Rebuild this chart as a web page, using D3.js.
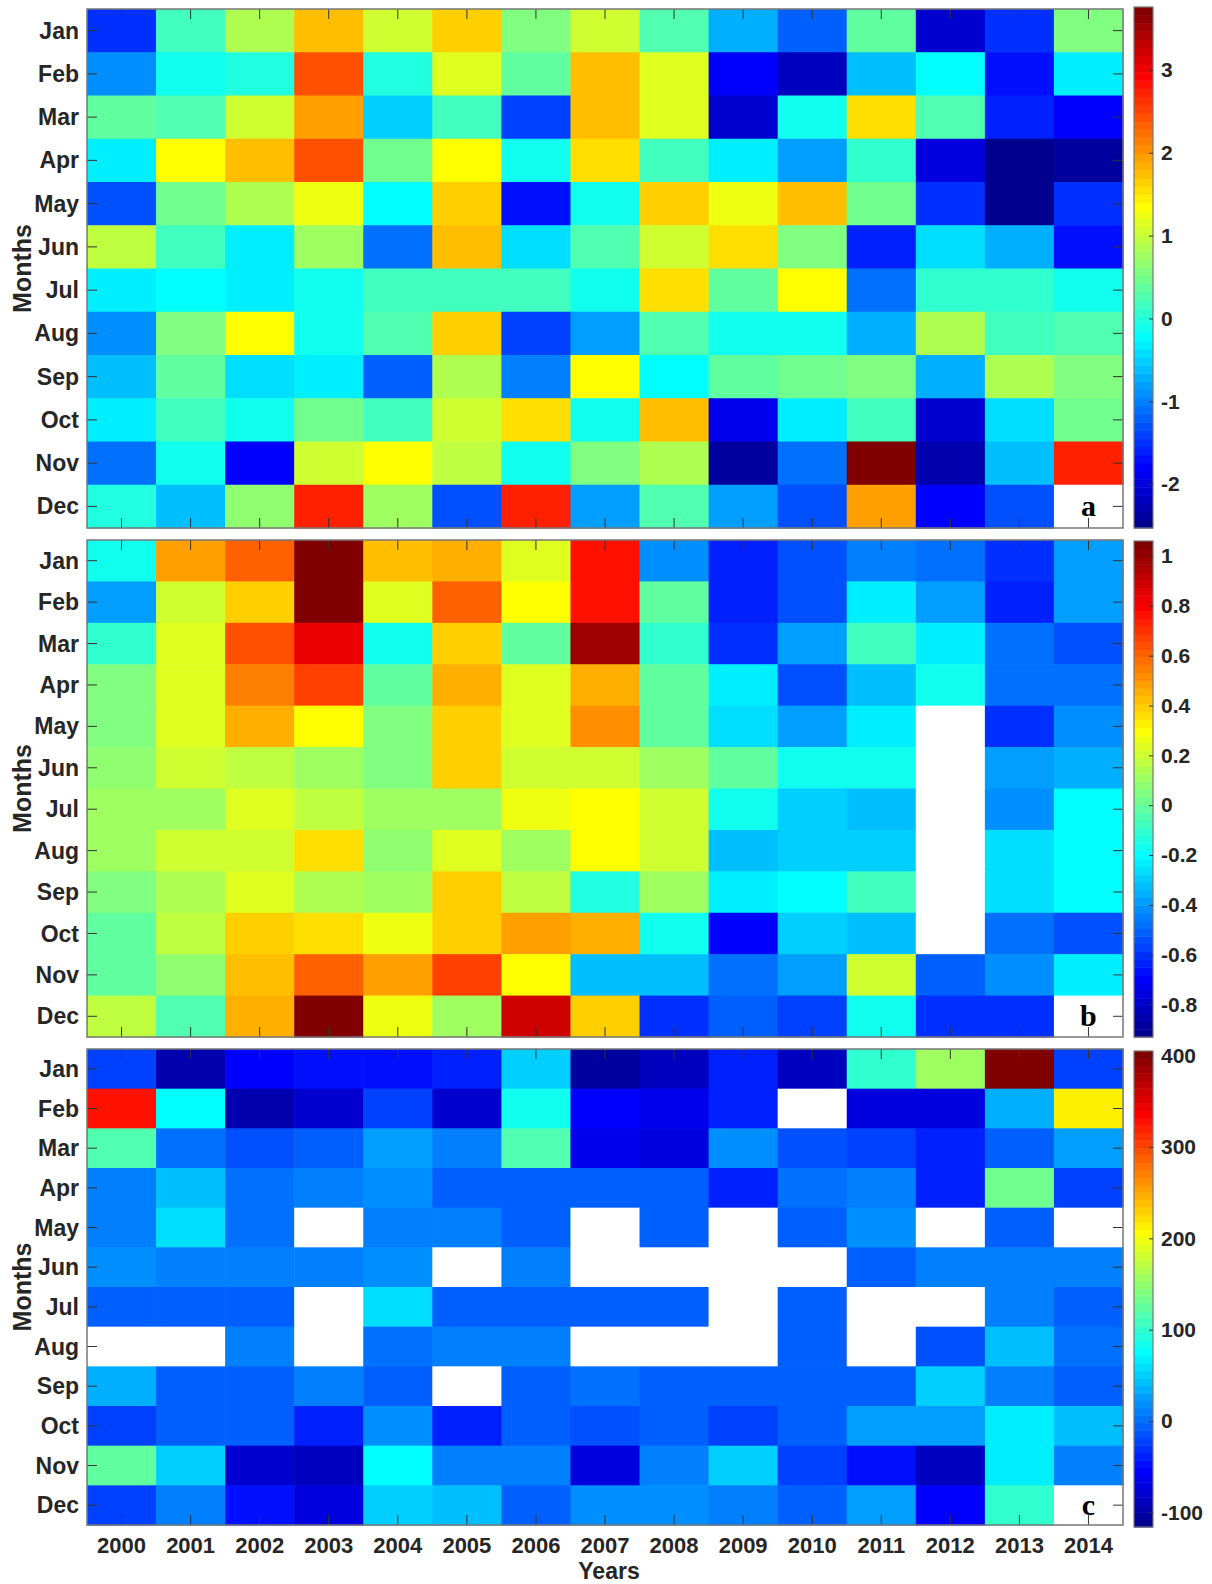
<!DOCTYPE html>
<html>
<head>
<meta charset="utf-8">
<script src="https://cdn.jsdelivr.net/npm/d3@7"></script>
<style>
  body { margin: 0; background: #fff; }
  svg { display: block; }
  text { font-family: "Liberation Sans", Arial, sans-serif; font-weight: bold; fill: #262626; }
</style>
</head>
<body>
<div id="chart"></div>
<script>
const years = ["2000", "2001", "2002", "2003", "2004", "2005", "2006", "2007", "2008", "2009", "2010", "2011", "2012", "2013", "2014"];
const months = ["Jan", "Feb", "Mar", "Apr", "May", "Jun", "Jul", "Aug", "Sep", "Oct", "Nov", "Dec"];

// panel a: one row per month, one value per year (null = no data)
const valuesA = [
    [-1.5, 0.2, 0.85, 1.75, 1.1, 1.6, 0.6, 1.05, 0.3, -0.75, -1.25, 0.35, -2.1, -1.5, 0.6],
    [-0.95, -0.16, -0.05, 2.4, -0.05, 1.2, 0.4, 1.75, 1.15, -1.8, -2.15, -0.6, -0.2, -1.7, -0.35],
    [0.35, 0.25, 1.1, 1.9, -0.5, 0.15, -1.4, 1.75, 1.2, -2.05, -0.16, 1.5, 0.3, -1.6, -1.75],
    [-0.35, 1.4, 1.7, 2.4, 0.5, 1.35, -0.1, 1.5, 0.15, -0.35, -0.85, 0.1, -1.95, -2.45, -2.4],
    [-1.3, 0.5, 0.85, 1.3, -0.2, 1.6, -1.65, -0.1, 1.6, 1.3, 1.7, 0.45, -1.45, -2.45, -1.5],
    [1.0, 0.15, -0.3, 0.75, -1.15, 1.75, -0.4, 0.25, 1.1, 1.5, 0.6, -1.6, -0.4, -0.75, -1.65],
    [-0.35, -0.2, -0.35, -0.1, 0.15, 0.15, 0.15, -0.15, 1.5, 0.4, 1.4, -1.15, 0.05, 0.05, -0.15],
    [-0.95, 0.6, 1.35, -0.1, 0.3, 1.6, -1.4, -0.85, 0.25, -0.1, -0.1, -0.75, 0.85, 0.15, 0.3],
    [-0.65, 0.4, -0.4, -0.3, -1.25, 0.85, -1.05, 1.4, -0.2, 0.4, 0.5, 0.6, -0.75, 0.85, 0.6],
    [-0.35, 0.2, -0.1, 0.5, 0.15, 1.1, 1.55, -0.1, 1.7, -1.9, -0.35, 0.2, -2.05, -0.4, 0.5],
    [-1.15, -0.1, -1.75, 1.1, 1.4, 1.0, -0.1, 0.6, 0.85, -2.35, -1.15, 3.7, -2.3, -0.6, 2.75],
    [-0.05, -0.57, 0.68, 2.75, 0.8, -1.3, 2.75, -0.85, 0.3, -0.85, -1.3, 1.9, -1.8, -1.3, null]
];

const valuesB = [
    [-0.16, 0.48, 0.6, 1.03, 0.42, 0.44, 0.25, 0.75, -0.43, -0.62, -0.53, -0.46, -0.48, -0.6, -0.38],
    [-0.38, 0.2, 0.4, 1.05, 0.23, 0.62, 0.31, 0.75, 0.0, -0.62, -0.53, -0.24, -0.38, -0.65, -0.38],
    [-0.12, 0.23, 0.65, 0.83, -0.17, 0.4, 0.0, 0.97, -0.1, -0.6, -0.38, -0.07, -0.24, -0.48, -0.53],
    [0.05, 0.25, 0.54, 0.67, -0.02, 0.46, 0.25, 0.45, -0.02, -0.24, -0.53, -0.33, -0.17, -0.48, -0.48],
    [0.05, 0.23, 0.46, 0.31, 0.05, 0.4, 0.23, 0.51, 0.0, -0.26, -0.38, -0.24, null, -0.6, -0.43],
    [0.07, 0.2, 0.17, 0.12, 0.05, 0.38, 0.22, 0.22, 0.1, -0.02, -0.17, -0.17, null, -0.4, -0.35],
    [0.12, 0.12, 0.25, 0.17, 0.12, 0.12, 0.27, 0.31, 0.2, -0.17, -0.28, -0.31, null, -0.43, -0.19],
    [0.12, 0.22, 0.22, 0.35, 0.07, 0.25, 0.1, 0.31, 0.2, -0.32, -0.28, -0.28, null, -0.26, -0.21],
    [0.05, 0.15, 0.25, 0.15, 0.12, 0.4, 0.17, -0.13, 0.1, -0.23, -0.19, -0.08, null, -0.26, -0.19],
    [-0.02, 0.17, 0.4, 0.35, 0.26, 0.4, 0.49, 0.46, -0.17, -0.7, -0.28, -0.31, null, -0.48, -0.53],
    [-0.02, 0.07, 0.42, 0.62, 0.48, 0.67, 0.31, -0.32, -0.32, -0.48, -0.38, 0.2, -0.5, -0.43, -0.24],
    [0.17, -0.05, 0.46, 1.05, 0.28, 0.12, 0.9, 0.4, -0.6, -0.5, -0.56, -0.17, -0.6, -0.6, null]
];

const valuesC = [
    [-25, -97, -55, -47, -47, -35, 52, -100, -85, -40, -85, 100, 158, 400, -25],
    [328, 75, -97, -80, -25, -80, 86, -55, -60, -35, null, -68, -68, 33, 215],
    [120, 0, -17, -10, 27, 14, 120, -60, -68, 20, -17, -25, -40, -10, 27],
    [14, 40, 0, 7, 20, -10, -10, -10, -5, -40, 0, 14, -35, 135, -25],
    [7, 60, 0, null, 7, 7, -5, null, -5, null, -5, 20, null, -10, null],
    [20, 7, 7, 7, 20, null, 7, null, null, null, null, -5, 7, 7, 7],
    [-5, -5, -5, null, 60, -5, -5, -5, -5, null, -5, null, null, 14, -5],
    [null, null, 7, null, 0, 7, 14, null, null, null, -5, null, -17, 46, 0],
    [33, -5, -5, 7, -5, null, -5, 0, -5, -5, -5, -5, 52, 7, -5],
    [-25, -10, -5, -35, 20, -40, -10, -17, -10, -25, -5, 27, 27, 65, 46],
    [128, 52, -80, -85, 79, 14, 14, -74, 14, 52, -25, -47, -85, 65, 7],
    [-25, 14, -47, -74, 52, 40, -10, 20, 20, 7, -5, 27, -55, 100, null]
];

// colour limits and colorbar ticks of each panel
const limitsA = [-2.53, 3.76];
const limitsB = [-0.93, 1.06];
const limitsC = [-116, 405];
const ticksA = [-2, -1, 0, 1, 2, 3];
const ticksB = [-0.8, -0.6, -0.4, -0.2, 0, 0.2, 0.4, 0.6, 0.8, 1];
const ticksC = [-100, 0, 100, 200, 300, 400];

const width = 1212, height = 1584;
const left = 87, right = 1123;
const cbLeft = 1134, cbRight = 1153;
const nColors = 64;

const svg = d3.select("#chart")
    .append("svg")
    .attr("width", width)
    .attr("height", height);

// MATLAB jet colormap with 64 levels, i = 0..63
function jet(i) {
    const n = 16;
    const u = k => (k < 1 || k > 47) ? 0 : (k <= n ? k / n : (k <= 31 ? 1 : (48 - k) / n));
    const j = i + 1;
    const r = j >= 25 ? u(j - 24) : 0;
    const g = (j >= 9 && j <= 55) ? u(j - 8) : 0;
    const b = j <= 39 ? u(j + 8) : 0;
    return d3.rgb(r * 255, g * 255, b * 255).formatHex();
}

const panels = [
    { values: valuesA, limits: limitsA, ticks: ticksA, letter: "a", top: 9, bottom: 528, cbTop: 7, cbBottom: 528, fmt: d => String(d) },
    { values: valuesB, limits: limitsB, ticks: ticksB, letter: "b", top: 540, bottom: 1037, cbTop: 541, cbBottom: 1037, fmt: d => String(+d.toFixed(1)) },
    { values: valuesC, limits: limitsC, ticks: ticksC, letter: "c", top: 1049, bottom: 1525, cbTop: 1051, cbBottom: 1527, fmt: d => String(d) }
];

const x = d3.scaleBand().domain(years).range([left, right]);

panels.forEach((p, k) => {
    const y = d3.scaleBand().domain(months).range([p.top, p.bottom]);
    const g = svg.append("g");
    const [lo, hi] = p.limits;
    const level = v => Math.max(0, Math.min(nColors - 1, Math.floor((v - lo) / (hi - lo) * nColors)));

    const cells = p.values.flatMap((row, r) => row.map((v, c) => ({ month: months[r], year: years[c], v })));

    g.selectAll("rect.cell")
        .data(cells)
        .join("rect")
        .attr("class", "cell")
        .attr("x", d => x(d.year))
        .attr("y", d => y(d.month))
        .attr("width", x.bandwidth() + 0.6)
        .attr("height", y.bandwidth() + 0.6)
        .attr("fill", d => d.v == null ? "#ffffff" : jet(level(d.v)));

    // inward ticks on all four sides
    const styleAxis = sel => {
        sel.select(".domain").remove();
        sel.selectAll(".tick line").attr("stroke", "#333").attr("stroke-width", 1);
        sel.attr("font-family", null).attr("font-size", null);
    };

    g.append("g")
        .attr("transform", `translate(${left},0)`)
        .call(d3.axisLeft(y).tickSize(-10).tickPadding(8))
        .call(styleAxis)
        .selectAll("text").style("font-size", "23px").attr("dy", "0.35em");

    g.append("g")
        .attr("transform", `translate(${right},0)`)
        .call(d3.axisRight(y).tickSize(-10).tickFormat(""))
        .call(styleAxis);

    g.append("g")
        .attr("transform", `translate(0,${p.top})`)
        .call(d3.axisTop(x).tickSize(-10).tickFormat(""))
        .call(styleAxis);

    const bottomAxis = g.append("g")
        .attr("transform", `translate(0,${p.bottom})`)
        .call(d3.axisBottom(x).tickSize(-10).tickPadding(12).tickFormat(k === 2 ? d => d : ""))
        .call(styleAxis);
    bottomAxis.selectAll("text").style("font-size", "22px");

    g.append("rect")
        .attr("x", left)
        .attr("y", p.top)
        .attr("width", right - left)
        .attr("height", p.bottom - p.top)
        .attr("fill", "none")
        .attr("stroke", "#777")
        .attr("stroke-width", 1.5);

    // panel letter in the bottom-right cell
    g.append("text")
        .attr("x", x("2014") + x.bandwidth() / 2)
        .attr("y", y("Dec") + y.bandwidth() / 2 + 10)
        .attr("text-anchor", "middle")
        .style("font-family", "'Liberation Serif', 'Times New Roman', serif")
        .style("font-size", "30px")
        .style("fill", "#000")
        .text(p.letter);

    g.append("text")
        .attr("transform", `translate(31,${(p.top + p.bottom) / 2}) rotate(-90)`)
        .attr("text-anchor", "middle")
        .style("font-size", "25px")
        .text("Months");

    // colorbar
    const cs = d3.scaleLinear().domain(p.limits).range([p.cbBottom, p.cbTop]);
    const step = (hi - lo) / nColors;
    g.selectAll("rect.cb")
        .data(d3.range(nColors))
        .join("rect")
        .attr("class", "cb")
        .attr("x", cbLeft)
        .attr("y", i => cs(lo + (i + 1) * step))
        .attr("width", cbRight - cbLeft)
        .attr("height", i => cs(lo + i * step) - cs(lo + (i + 1) * step) + 0.5)
        .attr("fill", i => jet(i));

    g.append("rect")
        .attr("x", cbLeft)
        .attr("y", p.cbTop)
        .attr("width", cbRight - cbLeft)
        .attr("height", p.cbBottom - p.cbTop)
        .attr("fill", "none")
        .attr("stroke", "#777")
        .attr("stroke-width", 1.2);

    g.append("g")
        .attr("transform", `translate(${cbRight},0)`)
        .call(d3.axisRight(cs).tickValues(p.ticks).tickSize(-4).tickPadding(8).tickFormat(p.fmt))
        .call(styleAxis)
        .selectAll("text").style("font-size", "21px");
});

svg.append("text")
    .attr("x", 609)
    .attr("y", 1579)
    .attr("text-anchor", "middle")
    .style("font-size", "23px")
    .text("Years");
</script>
</body>
</html>
